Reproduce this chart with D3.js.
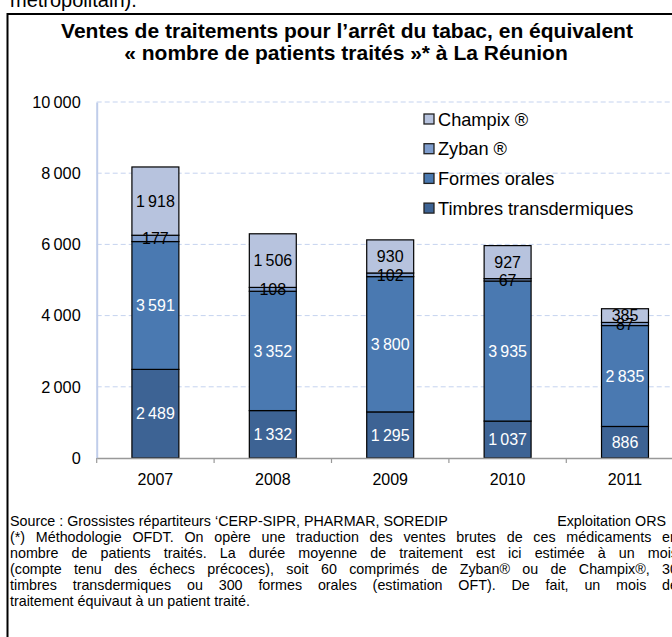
<!DOCTYPE html>
<html>
<head>
<meta charset="utf-8">
<script src="https://cdn.jsdelivr.net/npm/d3@7"></script>
<style>
  body { margin: 0; background: #fff; }
  svg { font-family: Arial, "Liberation Sans", sans-serif; display: block; }
  .grid line { stroke: #c5d3ef; stroke-dasharray: 5 3; }
  .foot { font-size: 14.3px; fill: #000; }
</style>
</head>
<body>
<svg width="672" height="637"></svg>
<script>
'use strict';

const years = ["2007", "2008", "2009", "2010", "2011"];
const series = ["Timbres transdermiques", "Formes orales", "Zyban ®", "Champix ®"];
const timbres = [2489, 1332, 1295, 1037, 886];
const formes = [3591, 3352, 3800, 3935, 2835];
const zyban = [177, 108, 102, 67, 87];
const champix = [1918, 1506, 930, 927, 385];
const yTicks = [0, 2000, 4000, 6000, 8000, 10000];
const colors = ["#3d6394", "#4a79b1", "#7f9dcd", "#b7c3de"];
const labelColors = ["#fff", "#fff", "#000", "#000"];

const footLines = [
  "(*) Méthodologie OFDT. On opère une traduction des ventes brutes de ces médicaments en",
  "nombre de patients traités. La durée moyenne de traitement est ici estimée à un mois",
  "(compte tenu des échecs précoces), soit 60 comprimés de Zyban® ou de Champix®, 30",
  "timbres transdermiques ou 300 formes orales (estimation OFT). De fait, un mois de"
];

const table = years.map((y, i) => ({
  year: y,
  [series[0]]: timbres[i],
  [series[1]]: formes[i],
  [series[2]]: zyban[i],
  [series[3]]: champix[i]
}));

const svg = d3.select('svg');
const fmt = d3.formatLocale({decimal: ",", thousands: "\u2009", grouping: [3], currency: ["", "€"]}).format(",d");

// texte coupé au-dessus du cadre
svg.append('text').attr('x', 10).attr('y', 7)
  .style('font-size', '20px').text('métropolitain).');

// cadre
svg.append('path')
  .attr('d', 'M 690,14 L 7.5,14 L 7.5,640')
  .attr('fill', 'none').attr('stroke', '#000').attr('stroke-width', 2);

// titre
const title = svg.append('text').attr('text-anchor', 'middle')
  .style('font-size', '21px').style('font-weight', 'bold');
title.append('tspan').attr('x', 347).attr('y', 38)
  .text("Ventes de traitements pour l\u2019arrêt du tabac, en équivalent");
title.append('tspan').attr('x', 346).attr('y', 60)
  .text("« nombre de patients traités »* à La Réunion");

const left = 96.7, bandW = 117.4;
const x = d3.scaleBand().domain(years)
  .range([left, left + bandW * years.length]).paddingInner(0.6).paddingOuter(0.3);
const y = d3.scaleLinear().domain([0, 10000]).range([458, 102]);

// grille
svg.append('g').attr('class', 'grid')
  .selectAll('line').data(yTicks.slice(1)).enter().append('line')
  .attr('x1', left).attr('x2', 672)
  .attr('y1', d => y(d)).attr('y2', d => y(d));

// axe vertical
const yAxis = svg.append('g').attr('transform', `translate(${left},0)`)
  .call(d3.axisLeft(y).tickValues(yTicks).tickSize(0).tickPadding(16).tickFormat(fmt));
yAxis.select('.domain').attr('stroke', '#c0cdea').attr('stroke-width', 2);
yAxis.selectAll('text').style('font-size', '16.3px').attr('fill', '#000');

// barres empilées
const stack = d3.stack().keys(series)(table);
const layers = svg.append('g').selectAll('g').data(stack).enter().append('g')
  .attr('fill', (d, i) => colors[i]);

layers.selectAll('rect').data(d => d).enter().append('rect')
  .attr('x', d => x(d.data.year))
  .attr('width', x.bandwidth())
  .attr('y', d => y(d[1]))
  .attr('height', d => y(d[0]) - y(d[1]))
  .attr('stroke', '#000').attr('stroke-width', 1.2);

// axe horizontal
const xAxis = svg.append('g').attr('transform', `translate(0,${y(0)})`)
  .call(d3.axisBottom(x).tickSize(0).tickPadding(16));
xAxis.select('.domain').attr('stroke', '#999').attr('stroke-width', 1.5);
xAxis.selectAll('text').style('font-size', '16px').attr('fill', '#000');
xAxis.selectAll('.sep').data(d3.range(years.length + 1)).enter().append('line')
  .attr('x1', i => left + i * bandW).attr('x2', i => left + i * bandW)
  .attr('y1', 0).attr('y2', 5).attr('stroke', '#999').attr('stroke-width', 1.2);

// étiquettes de valeurs
stack.forEach((layer, k) => {
  svg.append('g').selectAll('text').data(layer).enter().append('text')
    .attr('x', d => x(d.data.year) + x.bandwidth() / 2)
    .attr('y', d => y((d[0] + d[1]) / 2))
    .attr('dy', '0.36em')
    .attr('text-anchor', 'middle')
    .attr('fill', labelColors[k])
    .style('font-size', '16px')
    .text(d => fmt(d[1] - d[0]));
});

// légende
const legend = svg.append('g').attr('transform', 'translate(424,119)');
const rows = legend.selectAll('g').data(series.slice().reverse()).enter().append('g')
  .attr('transform', (d, i) => `translate(0,${i * 29.7})`);
rows.append('rect').attr('x', 0).attr('y', -5).attr('width', 10).attr('height', 10)
  .attr('fill', d => colors[series.indexOf(d)]).attr('stroke', '#222').attr('stroke-width', 1.3);
rows.append('text').attr('x', 14).attr('y', 0).attr('dy', '0.36em')
  .style('font-size', '18.2px').text(d => d);

// note de bas de page
svg.append('text').attr('class', 'foot').attr('x', 10).attr('y', 526)
  .text("Source : Grossistes répartiteurs \u2018CERP-SIPR, PHARMAR, SOREDIP");
svg.append('text').attr('class', 'foot').attr('x', 666).attr('y', 526)
  .attr('text-anchor', 'end').text("Exploitation ORS");
const justifyTo = 668;
svg.append('g').selectAll('text').data(footLines).enter().append('text')
  .attr('class', 'foot').attr('x', 10).attr('y', (d, i) => 542 + i * 16)
  .text(d => d)
  .each(function (d) {
    const gaps = d.split(' ').length - 1;
    const extra = (justifyTo - this.getComputedTextLength()) / gaps;
    d3.select(this).style('word-spacing', `${extra}px`);
  });
svg.append('text').attr('class', 'foot').attr('x', 10).attr('y', 606)
  .text("traitement équivaut à un patient traité.");
</script>
</body>
</html>
